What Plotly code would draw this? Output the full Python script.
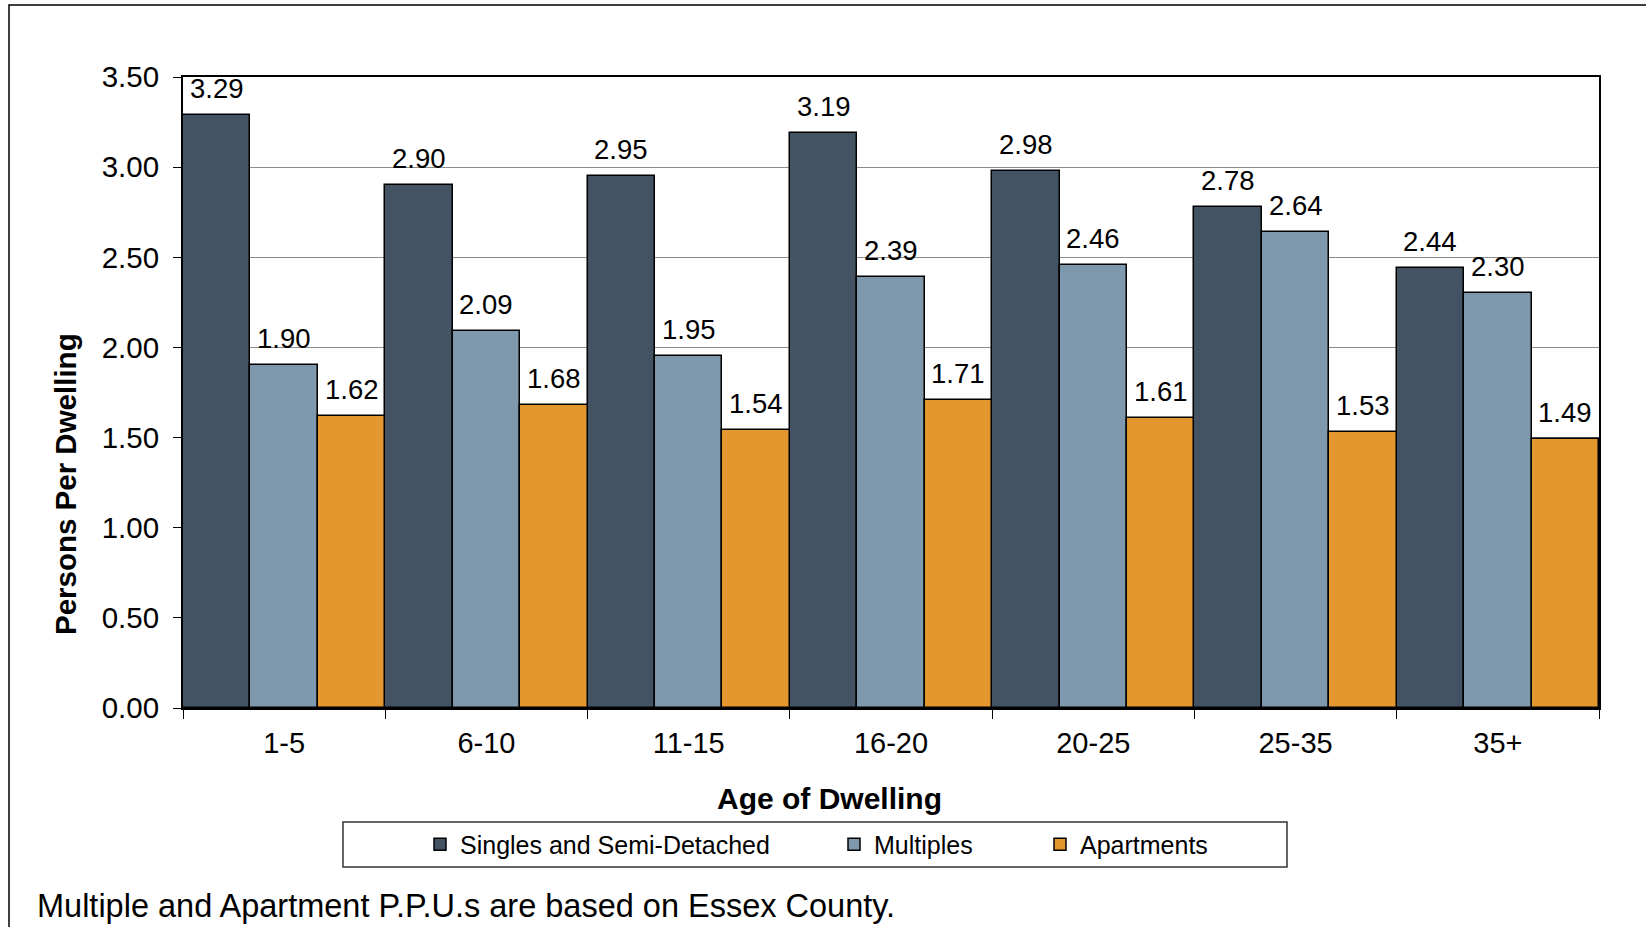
import plotly.graph_objects as go

categories = ["1-5", "6-10", "11-15", "16-20", "20-25", "25-35", "35+"]
singles = [3.29, 2.90, 2.95, 3.19, 2.98, 2.78, 2.44]
multiples = [1.90, 2.09, 1.95, 2.39, 2.46, 2.64, 2.30]
apartments = [1.62, 1.68, 1.54, 1.71, 1.61, 1.53, 1.49]
series_names = ["Singles and Semi-Detached", "Multiples", "Apartments"]
colors = ["#435363", "#7E98AD", "#E3972E"]

FONT = "Arial, Liberation Sans, sans-serif"
W, H = 1646, 927
L, R, T, B = 183, 1599, 77, 708
PW, PH = R - L, B - T
BAR_W = PW / len(categories) / 3


def px(x):
    return (x - L) / PW


def py(y):
    return (B - y) / PH


fig = go.Figure()
legend_ids = ["legend", "legend2", "legend3"]
all_series = [singles, multiples, apartments]
annotations = []
for i, (name, vals, col, lg) in enumerate(zip(series_names, all_series, colors, legend_ids)):
    fig.add_trace(go.Bar(
        x=categories, y=vals, name=name,
        marker=dict(color=col, line=dict(color="#000000", width=1.5)),
        legend=lg, showlegend=True,
    ))
    for c, v in zip(categories, vals):
        annotations.append(dict(
            x=c, y=v, xref="x", yref="y", text=f"{v:.2f}", showarrow=False,
            xanchor="center", yanchor="bottom", xshift=(i - 1) * BAR_W, yshift=9,
            font=dict(family=FONT, size=27.5, color="#000000"),
        ))

legend_common = dict(orientation="h", yanchor="middle", xanchor="left", visible=True,
                     font=dict(family=FONT, size=25, color="#000000"),
                     bgcolor="rgba(0,0,0,0)", borderwidth=0)

annotations += [
    dict(text="<b>Persons Per Dwelling</b>", textangle=-90, xref="paper", yref="paper",
         x=px(65), y=py(484), xanchor="center", yanchor="middle", showarrow=False,
         font=dict(family=FONT, size=29.5, color="#000000")),
    dict(text="<b>Age of Dwelling</b>", xref="paper", yref="paper",
         x=px(829), y=py(798), xanchor="center", yanchor="middle", showarrow=False,
         font=dict(family=FONT, size=30, color="#000000")),
    dict(text="Multiple and Apartment P.P.U.s are based on Essex County.", xref="paper", yref="paper",
         x=px(35), y=py(906), xanchor="left", yanchor="middle", showarrow=False,
         font=dict(family=FONT, size=32.5, color="#000000")),
]

fig.update_layout(
    width=W, height=H,
    margin=dict(l=L, r=W - R, t=T, b=H - B),
    paper_bgcolor="white", plot_bgcolor="white",
    barmode="group", bargap=0, bargroupgap=0,
    showlegend=True,
    font=dict(family=FONT, color="#000000"),
    legend=dict(x=px(420), y=py(844.5), **legend_common),
    legend2=dict(x=px(834), y=py(844.5), **legend_common),
    legend3=dict(x=px(1040), y=py(844.5), **legend_common),
    xaxis=dict(
        type="category", showline=True, linecolor="#000000", linewidth=2, mirror=True,
        ticks="outside", tickson="boundaries", ticklen=9, tickcolor="#000000", tickwidth=1,
        tickfont=dict(family=FONT, size=29, color="#000000"), ticklabelstandoff=8,
        showgrid=False,
    ),
    yaxis=dict(
        range=[0, 3.5], dtick=0.5, tickformat=".2f",
        showline=True, linecolor="#000000", linewidth=2, mirror=True,
        ticks="outside", ticklen=8, tickcolor="#000000", tickwidth=1,
        tickfont=dict(family=FONT, size=29.5, color="#000000"), ticklabelstandoff=8,
        showgrid=True, gridcolor="#8c8c8c", gridwidth=1, zeroline=False,
    ),
    shapes=[
        dict(type="rect", xref="paper", yref="paper",
             x0=px(9), x1=px(1680), y0=py(960), y1=py(5),
             line=dict(color="#000000", width=1.5), fillcolor="rgba(0,0,0,0)", layer="below"),
        dict(type="rect", xref="paper", yref="paper",
             x0=px(343), x1=px(1287), y0=py(867), y1=py(822),
             line=dict(color="#333333", width=1.5), fillcolor="rgba(0,0,0,0)"),
    ],
    annotations=annotations,
)

fig.write_html("out.html", config={"displayModeBar": False},
               post_script="document.body.style.margin='0';document.body.style.overflow='hidden';")
